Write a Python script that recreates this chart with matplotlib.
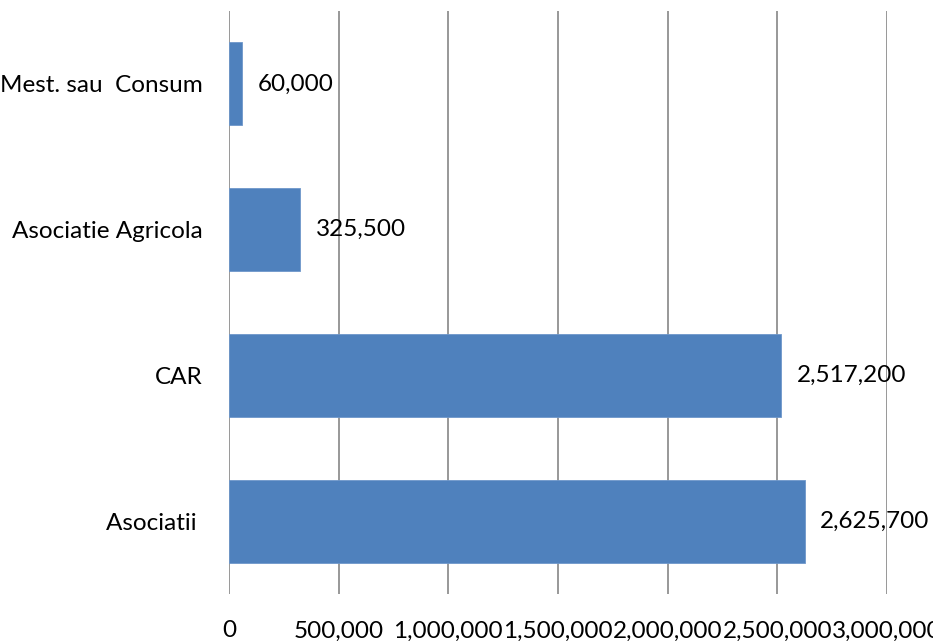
import matplotlib
matplotlib.use("Agg")
import matplotlib.pyplot as plt
from matplotlib.ticker import FuncFormatter

# date (de jos in sus, ca in grafic)
categorii = ["Asociatii ", "CAR", "Asociatie Agricola", "Mest. sau  Consum"]
valori = [2625700, 2517200, 325500, 60000]
x_ticks = [0, 500000, 1000000, 1500000, 2000000, 2500000, 3000000]

plt.rcParams["font.family"] = ["Lato", "DejaVu Sans"]

fig = plt.figure(figsize=(9.33, 6.41), dpi=100)
ax = fig.add_axes([0.2454, 0.0733, 0.7053, 0.9095])

ax.barh(range(len(categorii)), valori, height=0.57, color="#4F81BD",
        edgecolor="#6E97CB", linewidth=0.6, zorder=3)

for i, v in enumerate(valori):
    ax.annotate(f"{v:,}", xy=(v, i), xytext=(11, 0), textcoords="offset points",
                va="center", ha="left", fontsize=17.5, color="black", zorder=4)

ax.set_ylim(-0.5, len(categorii) - 0.5)
ax.set_xlim(0, 3000000)
ax.set_xticks(x_ticks)
ax.xaxis.set_major_formatter(FuncFormatter(lambda x, p: f"{int(x):,}"))
ax.set_yticks(range(len(categorii)))
ax.set_yticklabels(categorii)

ax.grid(axis="x", color="#868686", linewidth=1.2, zorder=0)
for s in ax.spines.values():
    s.set_visible(False)
ax.tick_params(axis="both", length=0, labelsize=17.5, colors="black")
ax.tick_params(axis="x", pad=19)
ax.tick_params(axis="y", pad=19)

fig.savefig("out.png", dpi=100)
